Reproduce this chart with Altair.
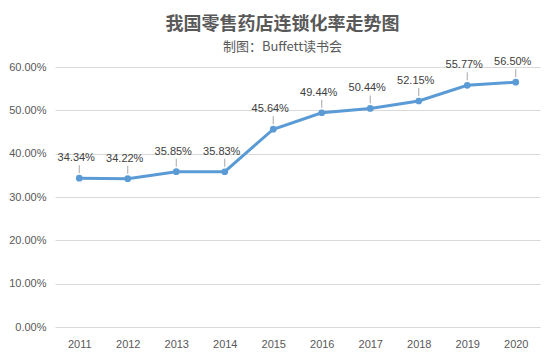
import altair as alt
import pandas as pd

years = ["2011", "2012", "2013", "2014", "2015", "2016", "2017", "2018", "2019", "2020"]
rates = [0.3434, 0.3422, 0.3585, 0.3583, 0.4564, 0.4944, 0.5044, 0.5215, 0.5577, 0.5650]
y_ticks = [0.0, 0.1, 0.2, 0.3, 0.4, 0.5, 0.6]

df = pd.DataFrame({"year": years, "rate": rates})

LABEL_FONT = "Liberation Sans"
BLUE = "#5B9BD5"

x = alt.X(
    "year:O",
    scale=alt.Scale(type="point", padding=0.5),
    axis=alt.Axis(
        title=None, labelAngle=0, ticks=False, domain=False, grid=False,
        labelFont=LABEL_FONT, labelFontSize=11, labelColor="#595959", labelPadding=11,
    ),
)
y = alt.Y(
    "rate:Q",
    scale=alt.Scale(domain=[0, 0.6], nice=False, zero=True),
    axis=alt.Axis(
        title=None, format=".2%", values=y_ticks, ticks=False, domain=False,
        grid=True, gridColor="#d9d9d9", gridWidth=1,
        labelFont=LABEL_FONT, labelFontSize=11, labelColor="#595959", labelPadding=9,
    ),
)

base = alt.Chart(df)

leaders = base.mark_rule(color="#a6a6a6", strokeWidth=1, yOffset=-5, y2Offset=-13).encode(
    x=x, y=y, y2="rate:Q"
)
line = base.mark_line(color=BLUE, strokeWidth=3).encode(x=x, y=y)
points = base.mark_point(filled=True, size=45, opacity=1, color=BLUE).encode(x=x, y=y)
labels = base.mark_text(
    dy=-20, dx=-3, font=LABEL_FONT, fontSize=11, color="#404040"
).encode(x=x, y=y, text=alt.Text("rate:Q", format=".2%"))

chart = (
    alt.layer(leaders, line, points, labels)
    .properties(
        width=485,
        height=260,
        padding={"left": 47, "top": 59, "right": 7, "bottom": 25},
        autosize=alt.AutoSizeParams(type="none"),
        background="white",
        title=alt.TitleParams(
            text="我国零售药店连锁化率走势图",
            subtitle="制图：Buffett读书会",
            font="Noto Sans CJK SC",
            fontSize=18,
            fontWeight="bold",
            color="#595959",
            subtitleFont="Noto Sans CJK SC",
            subtitleFontSize=13,
            subtitleColor="#595959",
            subtitlePadding=7,
            anchor="middle",
            dx=-15,
            offset=2,
        ),
    )
    .configure_view(stroke=None)
)

chart.save("out.html", embed_options={"renderer": "svg", "actions": False})
